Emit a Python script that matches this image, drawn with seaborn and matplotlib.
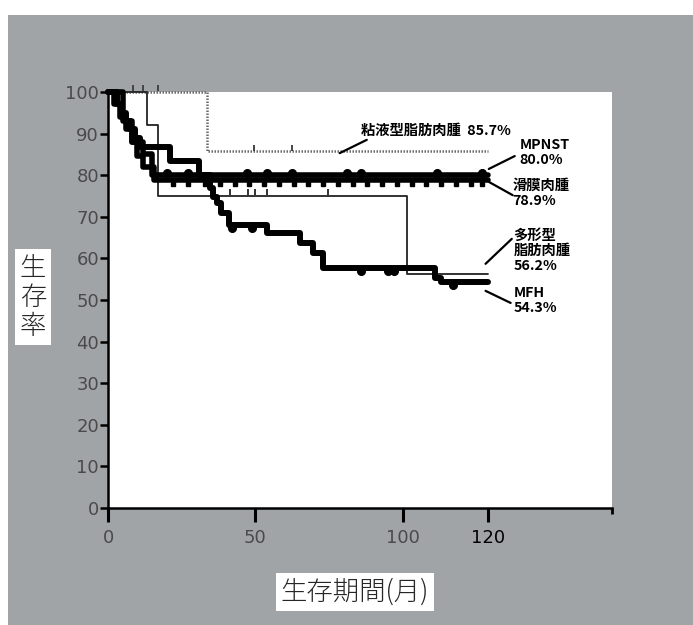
import matplotlib
matplotlib.use("Agg")
import matplotlib.pyplot as plt
import seaborn as sns
from matplotlib.patches import Rectangle

# ---------------- data ----------------
# months / survival rate (%)
myxoid_t = [0, 33.5, 129]
myxoid_s = [100, 85.7, 85.7]
myxoid_cens_t = [8.5, 12, 17, 49.5, 62.5]
myxoid_cens_s = [100, 100, 100, 85.7, 85.7]

pleo_t = [0, 13.3, 16.8, 101.4, 129]
pleo_s = [100, 92.0, 75.0, 56.2, 56.2]
pleo_cens_t = [41.4, 47.5, 49.8, 54.0, 74.6]
pleo_cens_s = [75.0, 75.0, 75.0, 75.0, 75.0]

mpnst_t = [0, 5, 8, 12, 15, 129]
mpnst_s = [100, 93, 88, 85, 80.0, 80.0]
mpnst_cens_t = [20, 27, 47, 54, 62.5, 81, 86, 111.5, 127]
mpnst_cens_s = [80.0] * 9

syn_t = [0, 2, 4, 6, 8, 10, 12, 15.5, 129]
syn_s = [100, 97, 94, 91, 88, 84.5, 82, 78.9, 78.9]
syn_cens_t = [22, 27, 33, 38, 43, 48, 53, 58, 63, 68, 73, 78, 83, 88, 93,
              98, 103, 108, 113, 118, 123, 127]
syn_cens_s = [78.9] * 22

mfh_t = [0, 3, 4.5, 6, 7.5, 9, 11, 21, 31, 34.6, 35.6, 37, 38.5, 41, 54,
         65, 69.5, 73, 111, 113, 129]
mfh_s = [100, 97, 95, 93, 91, 89, 86.8, 83.3, 80.0, 77.0, 74.8, 73.3, 71.0,
         68.0, 66.0, 63.7, 61.3, 57.7, 55.3, 54.3, 54.3]
mfh_cens_t = [42, 49, 86, 95, 97, 117]
mfh_cens_s = [68.0, 68.0, 57.7, 57.7, 57.7, 54.3]

xtick_pos = [0, 50, 100, 129]
xtick_labels = ["0", "50", "100", "120"]
ytick_pos = [0, 10, 20, 30, 40, 50, 60, 70, 80, 90, 100]

labels = ["粘液型脂肪肉腫  85.7%", "MPNST\n80.0%", "滑膜肉腫\n78.9%",
          "多形型\n脂肪肉腫\n56.2%", "MFH\n54.3%"]
label_xy = [(86.0, 92.3), (139.7, 89.0), (137.3, 79.2), (137.6, 67.0),
            (137.6, 53.4)]
leader_from = [(78.6, 85.3), (129.2, 81.5), (129.2, 78.4), (128.1, 58.7),
               (128.1, 52.2)]
leader_to = [(87.8, 88.5), (138.0, 84.6), (137.3, 75.2), (137.0, 64.7),
             (136.6, 49.3)]

# ---------------- figure ----------------
sns.set_theme(style="ticks")
plt.rcParams["font.family"] = ["Noto Sans CJK JP", "DejaVu Sans"]

W, H = 693, 625
fig = plt.figure(figsize=(W / 100, H / 100), dpi=100, facecolor="white")
fig.patches.append(Rectangle((8 / W, 0), 1, 1 - 15 / H, transform=fig.transFigure,
                             facecolor="#a1a4a7", edgecolor="none", zorder=-10))

ax = fig.add_axes([108 / W, (H - 508) / H, (612 - 108) / W, (508 - 92) / H])
ax.set_facecolor("white")

kw = dict(drawstyle="steps-post", estimator=None, ax=ax, clip_on=False,
          legend=False)
sns.lineplot(x=myxoid_t, y=myxoid_s, color="#6a6a6a", lw=1.8,
             linestyle=(0, (0.6, 0.6)), **kw)
sns.lineplot(x=pleo_t, y=pleo_s, color="#222222", lw=1.3, **kw)
sns.lineplot(x=mpnst_t, y=mpnst_s, color="black", lw=4.0, **kw)
sns.lineplot(x=syn_t, y=syn_s, color="black", lw=4.0, **kw)
sns.lineplot(x=mfh_t, y=mfh_s, color="black", lw=4.3, **kw)

# censor marks
ax.plot(myxoid_cens_t, [v + 0.9 for v in myxoid_cens_s], ls="none", marker="|",
        ms=4, mew=1.4, color="#444444", clip_on=False)
ax.plot(pleo_cens_t, [v + 0.9 for v in pleo_cens_s], ls="none", marker="|",
        ms=4, mew=1.3, color="#222222", clip_on=False)
ax.plot(mpnst_cens_t, [v + 0.6 for v in mpnst_cens_s], ls="none", marker="o",
        ms=5.5, color="black", clip_on=False)
ax.plot(syn_cens_t, [v - 1.1 for v in syn_cens_s], ls="none", marker="s",
        ms=3.2, color="black", clip_on=False)
ax.plot(mfh_cens_t, [v - 0.7 for v in mfh_cens_s], ls="none", marker="o",
        ms=5.5, color="black", clip_on=False)

# labels and leader lines
for txt, (x, y) in zip(labels, label_xy):
    ax.text(x, y, txt, fontsize=10.3, fontweight="bold", color="black",
            ha="left", va="top", linespacing=1.1)
for (x0, y0), (x1, y1) in zip(leader_from, leader_to):
    ax.plot([x0, x1], [y0, y1], color="black", lw=1.6, clip_on=False)

ax.set_xlim(0, 171)
ax.set_ylim(0, 100)
ax.set_xticks(xtick_pos)
ax.set_xticklabels(xtick_labels, family="DejaVu Sans", fontsize=13)
ax.set_xticks([171], minor=True)
ax.set_yticks(ytick_pos)
ax.set_yticklabels([str(v) for v in ytick_pos], family="DejaVu Sans",
                   fontsize=13)
for lab in ax.get_xticklabels() + ax.get_yticklabels():
    lab.set_color("#4a4a4a")
ax.get_xticklabels()[-1].set_color("black")

ax.tick_params(axis="x", which="major", length=10, width=2.2, color="black",
               pad=5, direction="out")
ax.tick_params(axis="x", which="minor", length=4, width=2, color="black")
ax.tick_params(axis="y", length=5.5, width=1.8, color="black", pad=1,
               direction="out")
for s in ["top", "right"]:
    ax.spines[s].set_visible(False)
for s in ["left", "bottom"]:
    ax.spines[s].set_color("black")
    ax.spines[s].set_linewidth(1.8)
ax.set_xlabel("")
ax.set_ylabel("")

box = dict(facecolor="white", edgecolor="none", pad=3.5)
fig.text(33 / W, 1 - 297 / H, "生\n存\n率", fontsize=19, fontweight="light",
         ha="center", va="center", linespacing=1.05, bbox=box)
fig.text(355 / W, 1 - 592 / H, "生存期間(月)", fontsize=19, fontweight="light",
         ha="center", va="center", bbox=box)

fig.savefig("out.png", dpi=100, facecolor="white")
